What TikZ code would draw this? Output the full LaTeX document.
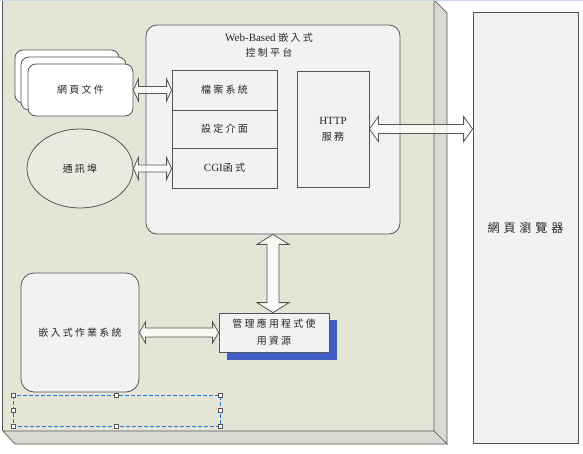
\documentclass[tikz,border=0pt]{standalone}
\usepackage{fontspec}
\setmainfont{Liberation Serif}
\newfontfamily\cjk[LetterSpace=22]{Noto Sans CJK TC}
\newfontfamily\cjkbig[LetterSpace=33]{Noto Sans CJK TC}
\usetikzlibrary{shapes.geometric,calc}
\definecolor{panel}{HTML}{E4E4D7}
\definecolor{bevel}{HTML}{DAD9D3}
\definecolor{boxfill}{HTML}{F2F2F2}
\definecolor{edge}{HTML}{555555}
\definecolor{shadowblue}{HTML}{3E5EC6}
\definecolor{selblue}{HTML}{1C7AD8}
\definecolor{topline}{HTML}{C9D5E9}
\newcommand{\hdblarrow}[5]{%
  \draw[dblarrow] let \p1=(#1), \p2=(#2) in
    (\x1,\y1) -- (\x1+#5pt,\y1+#3pt) -- (\x1+#5pt,\y1+#4pt) -- (\x2-#5pt,\y1+#4pt)
    -- (\x2-#5pt,\y1+#3pt) -- (\x2,\y1) -- (\x2-#5pt,\y1-#3pt) -- (\x2-#5pt,\y1-#4pt)
    -- (\x1+#5pt,\y1-#4pt) -- (\x1+#5pt,\y1-#3pt) -- cycle;}
\newcommand{\vdblarrow}[5]{%
  \draw[dblarrow] let \p1=(#1), \p2=(#2) in
    (\x1,\y1) -- (\x1+#3pt,\y1-#5pt) -- (\x1+#4pt,\y1-#5pt) -- (\x1+#4pt,\y2+#5pt)
    -- (\x1+#3pt,\y2+#5pt) -- (\x1,\y2) -- (\x1-#3pt,\y2+#5pt) -- (\x1-#4pt,\y2+#5pt)
    -- (\x1-#4pt,\y1-#5pt) -- (\x1-#3pt,\y1-#5pt) -- cycle;}
\begin{document}
\begin{tikzpicture}[x=1pt,y=-1pt,
  font=\fontsize{10}{12}\selectfont,
  box/.style={draw=edge, fill=boxfill, line width=0.8pt, inner sep=0pt, text=black!85, align=center},
  dblarrow/.style={draw=edge, fill=white, fill opacity=0.75, line width=0.8pt, line join=miter},
  handle/.style={draw=edge, fill=white, line width=0.5pt}]
\useasboundingbox (0,0) rectangle (583,454);
\fill[white] (0,0) rectangle (583,454);
% panel with bevel
\fill[panel] (3,0) rectangle (434,431);
\filldraw[fill=bevel, draw=edge, line width=0.7pt] (434,0) -- (447,13) -- (447,444) -- (434,431) -- cycle;
\filldraw[fill=bevel, draw=edge, line width=0.7pt] (3,431) -- (434,431) -- (447,444) -- (15,444) -- cycle;
\draw[edge, line width=1.6pt] (2.5,0) -- (2.5,431);
\draw[topline, line width=1.5pt] (0,0.75) -- (583,0.75);

% browser
\node[box, minimum width=105, minimum height=431] (browser) at (525.5,227.5)
  {\fontsize{12}{14}\selectfont\cjkbig 網頁瀏覽器};

% platform
\node[box, rounded corners=11pt, minimum width=254, minimum height=209] (plat) at (273,129.5) {};
\node[align=center, anchor=north, inner sep=0pt, text=black!85, font=\fontsize{11}{15}\selectfont] (title) at (269,33)
  {Web-Based {\fontsize{10}{15}\selectfont\cjk 嵌入式}\\{\fontsize{10}{15}\selectfont\cjk 控制平台}};

% stacked documents
\node[box, fill=white, rounded corners=8pt, minimum width=104, minimum height=53] (doc3) at (67,76.5) {};
\node[box, fill=white, rounded corners=8pt, minimum width=105, minimum height=53] (doc2) at (73.5,83.5) {};
\node[box, fill=white, rounded corners=8pt, minimum width=105, minimum height=52] (doc1) at (80.5,90) {\cjk 網頁文件};

% port ellipse
\node[box, fill=panel!60!boxfill, ellipse, minimum width=106, minimum height=79] (port) at (80,168.5) {\cjk 通訊埠};

% left column of platform
\node[box, minimum width=105, minimum height=40] (fs) at (224.5,90) {\cjk 檔案系統};
\node[box, minimum width=105, minimum height=38] (cfg) at (224.5,129) {\cjk 設定介面};
\node[box, minimum width=105, minimum height=40] (cgi) at (224.5,168)
  {\fontsize{11}{12}\selectfont CGI{\fontsize{10}{12}\selectfont\cjk 函式}};

% HTTP
\node[box, minimum width=72, minimum height=116, font=\fontsize{11}{16}\selectfont] (http) at (333,129)
  {HTTP\\{\fontsize{10}{16}\selectfont\cjk 服務}};

% management box with blue shadow
\fill[shadowblue] (227,320) rectangle (337,360);
\node[box, minimum width=110, minimum height=39, font=\fontsize{10}{17}\selectfont] (mgmt) at (274,332.5)
  {\cjk 管理應用程式使\\\cjk 用資源};

% embedded OS
\node[box, rounded corners=13pt, minimum width=118, minimum height=119] (emb) at (80,332.5) {\cjk 嵌入式作業系統};

% selection rectangle
\draw[selblue, dashed, dash pattern=on 4pt off 2pt, line width=0.7pt] (13,395) rectangle (220,426);
\foreach \hx/\hy in {13/395,116.5/395,220/395,13/410.5,220/410.5,13/426,116.5/426,220/426}
  \draw[handle] (\hx-2,\hy-2) rectangle (\hx+2,\hy+2);

% arrows
\hdblarrow{doc1.east}{fs.west}{11}{3.5}{5}
\hdblarrow{port.east}{cgi.west}{11}{3.5}{5}
\hdblarrow{http.east}{browser.west}{12.5}{4.5}{9}
\hdblarrow{emb.east}{mgmt.west}{10.5}{4.5}{6}
\vdblarrow{plat.south}{mgmt.north}{16}{6}{10}
\end{tikzpicture}
\end{document}
